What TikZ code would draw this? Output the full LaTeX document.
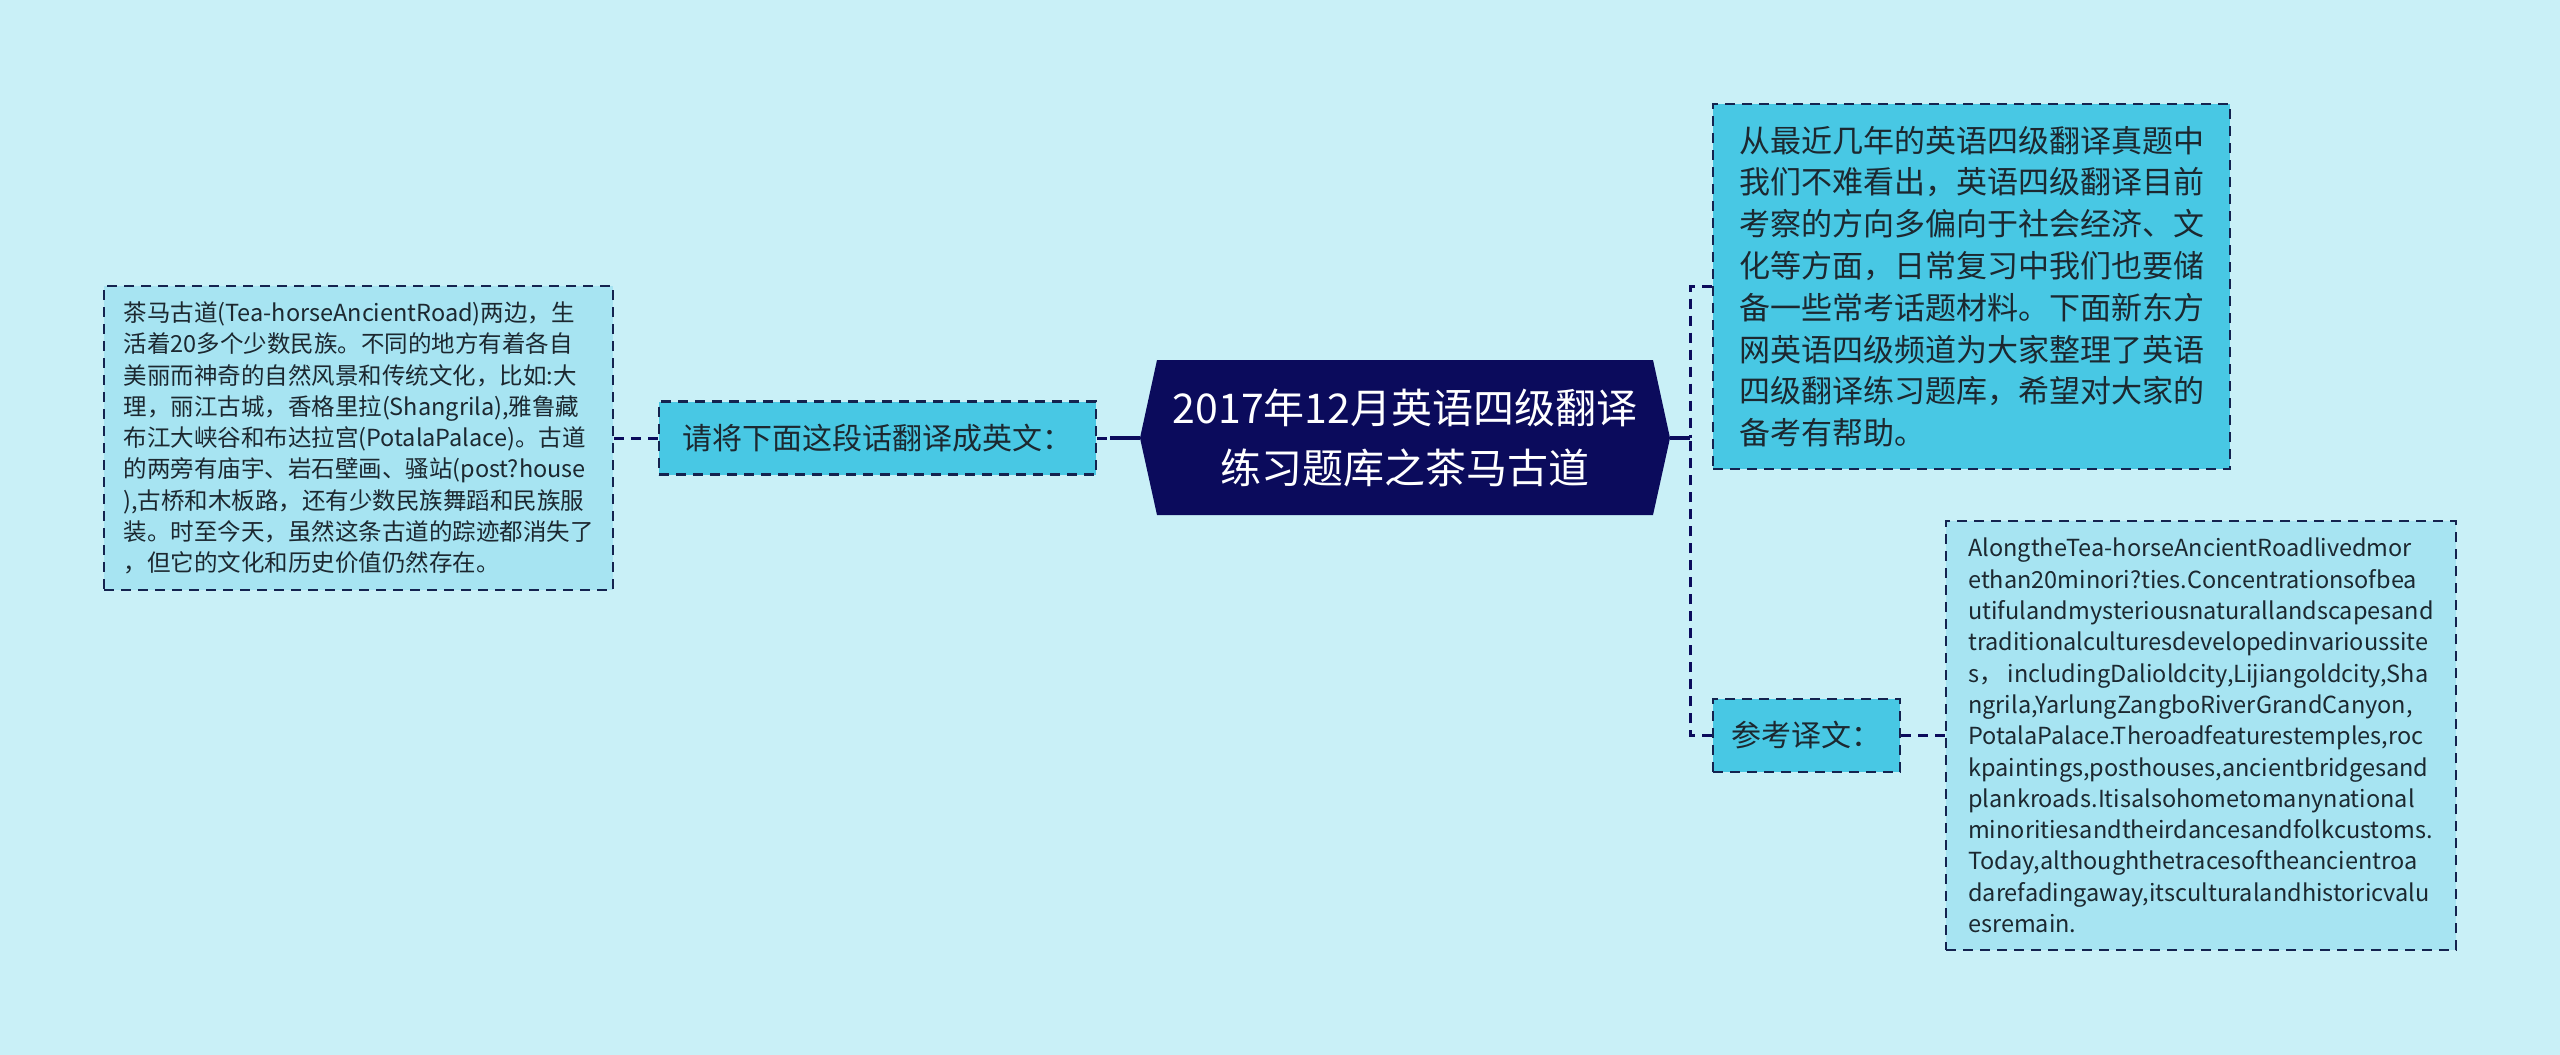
\documentclass[tikz,border=0pt]{standalone}
\usepackage{fontspec}
\setmainfont{Noto Sans CJK SC}
\definecolor{bgc}{HTML}{C9F0F7}
\definecolor{lightc}{HTML}{A7E4F2}
\definecolor{brightc}{HTML}{48C8E4}
\definecolor{navyc}{HTML}{0B0B5C}
\definecolor{bordc}{HTML}{14234F}
\definecolor{txtc}{HTML}{1C2830}
\begin{document}
\begin{tikzpicture}[x=0.5pt,y=-0.5pt,
  box/.style={draw=bordc, line width=1.2pt, dash pattern=on 5pt off 3.5pt, align=left, text=txtc, inner sep=0pt},
  lightbox/.style={box, fill=lightc},
  brightbox/.style={box, fill=brightc},
  conn/.style={draw=navyc, line width=1.5pt, dash pattern=on 5pt off 3.5pt},
  solidconn/.style={draw=navyc, line width=2.2pt},
  titlefont/.style={font=\fontsize{20.5pt}{30pt}\selectfont},
  smallfont/.style={font=\fontsize{11.75pt}{15.65pt}\selectfont},
  midfont/.style={font=\fontsize{15.5pt}{20.9pt}\selectfont},
  labelfont/.style={font=\fontsize{15pt}{18pt}\selectfont}
]
\fill[bgc] (0,0) rectangle (2560,1055);
\useasboundingbox (0,0) rectangle (2560,1055);

% central node
\fill[navyc] (1140,438) -- (1157,360) -- (1653,360) -- (1670,438) -- (1653,515) -- (1157,515) -- cycle;
\node[titlefont, text=white, align=center] (c) at (1405,438) {2017年12月英语四级翻译\\练习题库之茶马古道};
\coordinate (cL) at (1140,438);
\coordinate (cR) at (1670,438);

% left side
\node[lightbox, smallfont, minimum width=254.5pt, minimum height=152pt] (L) at (358.5,438) {茶马古道(Tea-horseAncientRoad)两边，生\\活着20多个少数民族。不同的地方有着各自\\美丽而神奇的自然风景和传统文化，比如:大\\理，丽江古城，香格里拉(Shangrila),雅鲁藏\\布江大峡谷和布达拉宫(PotalaPalace)。古道\\的两旁有庙宇、岩石壁画、骚站(post?house\\),古桥和木板路，还有少数民族舞蹈和民族服\\装。时至今天，虽然这条古道的踪迹都消失了\\，但它的文化和历史价值仍然存在。};
\node[brightbox, labelfont, minimum width=218.5pt, minimum height=36.5pt] (M) at (877.5,438) {请将下面这段话翻译成英文：};

% right side
\node[brightbox, midfont, minimum width=258.5pt, minimum height=182.5pt] (TR) at (1971.5,286.5) {从最近几年的英语四级翻译真题中\\我们不难看出，英语四级翻译目前\\考察的方向多偏向于社会经济、文\\化等方面，日常复习中我们也要储\\备一些常考话题材料。下面新东方\\网英语四级频道为大家整理了英语\\四级翻译练习题库，希望对大家的\\备考有帮助。};
\node[brightbox, labelfont, minimum width=93.5pt, minimum height=36.5pt] (RK) at (1806.5,735.5) {参考译文：};
\node[lightbox, smallfont, minimum width=255pt, minimum height=214.5pt] (RB) at (2201,735.5) {AlongtheTea-horseAncientRoadlivedmor\\ethan20minori?ties.Concentrationsofbea\\utifulandmysteriousnaturallandscapesand\\traditionalculturesdevelopedinvarioussite\\s， includingDalioldcity,Lijiangoldcity,Sha\\ngrila,YarlungZangboRiverGrandCanyon,\\PotalaPalace.Theroadfeaturestemples,roc\\kpaintings,posthouses,ancientbridgesand\\plankroads.Itisalsohometomanynational\\minoritiesandtheirdancesandfolkcustoms.\\Today,althoughthetracesoftheancientroa\\darefadingaway,itsculturalandhistoricvalu\\esremain.};

% connectors
\coordinate (mL) at (1110,438);
\coordinate (bus) at (1690,438);
\draw[conn] (L.east) -- (M.west);
\draw[conn] (M.east) -- (mL);
\draw[solidconn] (mL) -- (cL);
\draw[solidconn] (cR) -- (bus);
\draw[conn] (TR.west) -| (bus);
\draw[conn] (RK.west) -| (bus);
\draw[conn] (RK.east) -- (RB.west);
\end{tikzpicture}
\end{document}
